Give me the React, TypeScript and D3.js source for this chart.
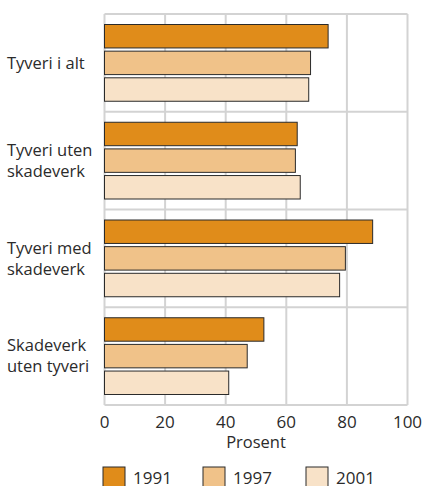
import React from "react";
import * as d3 from "d3";

const categories = [["Tyveri i alt"], ["Tyveri uten", "skadeverk"], ["Tyveri med", "skadeverk"], ["Skadeverk", "uten tyveri"]];
const years = ["1991", "1997", "2001"];
const values1991 = [73.8, 63.6, 88.5, 52.6];
const values1997 = [68.0, 63.0, 79.5, 47.1];
const values2001 = [67.4, 64.6, 77.6, 41.0];
const xTicks = [0, 20, 40, 60, 80, 100];
const colors = ["#E08C1A", "#F0C289", "#F8E2C8"];

const W = 425, H = 486;
const left = 104.5, right = 407.5, top = 14, bottom = 405;
const font = "'Open Sans', 'Noto Sans', sans-serif";

export default function App() {
  const series = [values1991, values1997, values2001];
  const x = d3.scaleLinear().domain([0, 100]).range([left, right]);
  const y = d3.scaleBand<number>().domain(d3.range(categories.length)).range([top, bottom]).padding(0);
  const bw = y.bandwidth();
  const yi = d3.scaleBand<number>().domain(d3.range(years.length)).range([10.5, bw - 10.5]).paddingInner(0.12);
  const grid = "#d3d3d3";
  const tc = "#2b2b2b";
  return (
    <svg width={W} height={H} style={{ position: "absolute", left: 0, top: 0, background: "#fff" }} fontFamily={font}>
      {xTicks.map((t) => (
        <line key={"v" + t} x1={x(t)} x2={x(t)} y1={top} y2={bottom} stroke={grid} strokeWidth={2} />
      ))}
      {d3.range(categories.length + 1).map((i) => {
        const yy = i < categories.length ? (y(i) as number) : bottom;
        return <line key={"h" + i} x1={left} x2={right} y1={yy} y2={yy} stroke={grid} strokeWidth={2} />;
      })}
      {categories.map((lines, ci) => {
        const y0 = y(ci) as number;
        const cy = y0 + bw / 2;
        return (
          <g key={ci}>
            {series.map((vals, si) => (
              <rect key={si} x={x(0)} y={y0 + (yi(si) as number)} width={x(vals[ci]) - x(0)} height={yi.bandwidth()}
                fill={colors[si]} stroke="#2a2a2a" strokeWidth={1} />
            ))}
            {lines.map((l, li) => (
              <text key={li} x={7} y={cy + (li - (lines.length - 1) / 2) * 21} dy="0.35em" fontSize={16.5} fill={tc}>{l}</text>
            ))}
          </g>
        );
      })}
      {xTicks.map((t) => (
        <text key={"t" + t} x={x(t)} y={422} dy="0.35em" textAnchor="middle" fontSize={17} fill={tc}>{t}</text>
      ))}
      <text x={(left + right) / 2} y={442.5} dy="0.35em" textAnchor="middle" fontSize={16.5} fill={tc}>Prosent</text>
      {years.map((yr, i) => {
        const lx = [103, 203, 306][i];
        return (
          <g key={yr}>
            <rect x={lx} y={467} width={22} height={22} fill={colors[i]} stroke="#2a2a2a" strokeWidth={1} />
            <text x={lx + 30} y={478} dy="0.35em" fontSize={17} fill={tc}>{yr}</text>
          </g>
        );
      })}
    </svg>
  );
}
